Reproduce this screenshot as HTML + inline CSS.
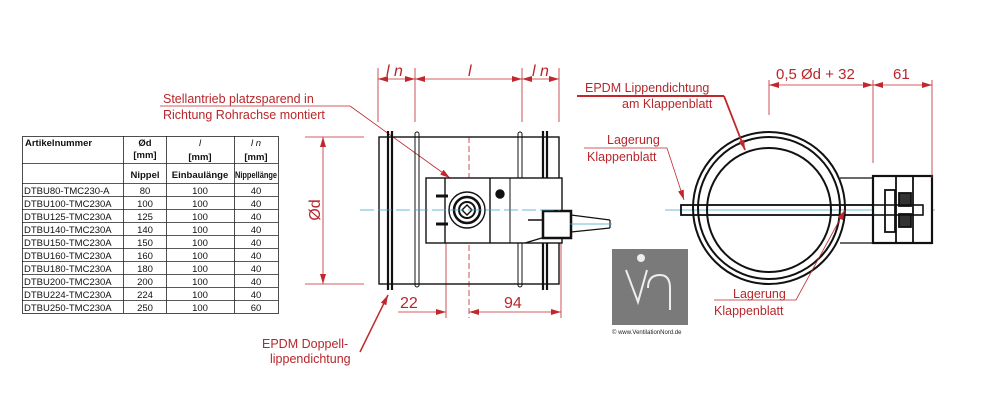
<!DOCTYPE html>
<html><head><meta charset="utf-8"><style>
html,body{margin:0;padding:0;background:#fff;}
svg{display:block;}
.r{fill:#b8262b;font-family:"Liberation Sans",sans-serif;}
.t{font-family:"Liberation Sans",sans-serif;font-size:9.5px;fill:#111;}
.b{font-weight:bold;}
</style></head><body>
<svg width="1000" height="400" viewBox="0 0 1000 400" xmlns="http://www.w3.org/2000/svg">
<defs>
<marker id="a" markerWidth="10" markerHeight="6" refX="10" refY="3" orient="auto-start-reverse" markerUnits="userSpaceOnUse"><path d="M0,0 L10,3 L0,6 z" fill="#c0282d"/></marker>
</defs>
<!-- TABLE -->
<g stroke="#222" stroke-width="0.8" fill="none">
<rect x="22.5" y="136.5" width="256" height="177"/>
<line x1="123.5" y1="136" x2="123.5" y2="313"/>
<line x1="166.5" y1="136" x2="166.5" y2="313"/>
<line x1="234.5" y1="136" x2="234.5" y2="313"/>
<line x1="22" y1="163.5" x2="278" y2="163.5"/>
<line x1="22" y1="183.5" x2="278" y2="183.5"/>
<line x1="22" y1="196.5" x2="278" y2="196.5"/>
<line x1="22" y1="209.5" x2="278" y2="209.5"/>
<line x1="22" y1="222.5" x2="278" y2="222.5"/>
<line x1="22" y1="235.5" x2="278" y2="235.5"/>
<line x1="22" y1="248.5" x2="278" y2="248.5"/>
<line x1="22" y1="261.5" x2="278" y2="261.5"/>
<line x1="22" y1="274.5" x2="278" y2="274.5"/>
<line x1="22" y1="287.5" x2="278" y2="287.5"/>
<line x1="22" y1="300.5" x2="278" y2="300.5"/>
</g>
<g class="t">
<text x="25" y="146" class="b">Artikelnummer</text>
<text x="145" y="146" class="b" text-anchor="middle">Ød</text>
<text x="145" y="158" class="b" text-anchor="middle">[mm]</text>
<text x="200" y="146" text-anchor="middle" font-style="italic">l</text>
<text x="200" y="160" class="b" text-anchor="middle">[mm]</text>
<text x="256" y="146" text-anchor="middle" font-style="italic">l n</text>
<text x="256" y="160" class="b" text-anchor="middle">[mm]</text>
<text x="145" y="178" class="b" text-anchor="middle">Nippel</text>
<text x="200" y="178" class="b" text-anchor="middle">Einbaulänge</text>
<text x="256" y="178" class="b" text-anchor="middle" textLength="42" lengthAdjust="spacingAndGlyphs">Nippellänge</text>
</g>
<g class="t">
<text x="24" y="194">DTBU80-TMC230-A</text><text x="145" y="194" text-anchor="middle">80</text><text x="200" y="194" text-anchor="middle">100</text><text x="256" y="194" text-anchor="middle">40</text>
<text x="24" y="207">DTBU100-TMC230A</text><text x="145" y="207" text-anchor="middle">100</text><text x="200" y="207" text-anchor="middle">100</text><text x="256" y="207" text-anchor="middle">40</text>
<text x="24" y="220">DTBU125-TMC230A</text><text x="145" y="220" text-anchor="middle">125</text><text x="200" y="220" text-anchor="middle">100</text><text x="256" y="220" text-anchor="middle">40</text>
<text x="24" y="233">DTBU140-TMC230A</text><text x="145" y="233" text-anchor="middle">140</text><text x="200" y="233" text-anchor="middle">100</text><text x="256" y="233" text-anchor="middle">40</text>
<text x="24" y="246">DTBU150-TMC230A</text><text x="145" y="246" text-anchor="middle">150</text><text x="200" y="246" text-anchor="middle">100</text><text x="256" y="246" text-anchor="middle">40</text>
<text x="24" y="259">DTBU160-TMC230A</text><text x="145" y="259" text-anchor="middle">160</text><text x="200" y="259" text-anchor="middle">100</text><text x="256" y="259" text-anchor="middle">40</text>
<text x="24" y="272">DTBU180-TMC230A</text><text x="145" y="272" text-anchor="middle">180</text><text x="200" y="272" text-anchor="middle">100</text><text x="256" y="272" text-anchor="middle">40</text>
<text x="24" y="285">DTBU200-TMC230A</text><text x="145" y="285" text-anchor="middle">200</text><text x="200" y="285" text-anchor="middle">100</text><text x="256" y="285" text-anchor="middle">40</text>
<text x="24" y="298">DTBU224-TMC230A</text><text x="145" y="298" text-anchor="middle">224</text><text x="200" y="298" text-anchor="middle">100</text><text x="256" y="298" text-anchor="middle">40</text>
<text x="24" y="311">DTBU250-TMC230A</text><text x="145" y="311" text-anchor="middle">250</text><text x="200" y="311" text-anchor="middle">100</text><text x="256" y="311" text-anchor="middle">60</text>
</g>

<!-- SIDE VIEW -->
<g stroke="#c0282d" stroke-width="0.8" fill="none">
<line x1="378" y1="68" x2="378" y2="122"/>
<line x1="415" y1="68" x2="415" y2="122"/>
<line x1="522" y1="68" x2="522" y2="122"/>
<line x1="559" y1="68" x2="559" y2="122"/>
<line x1="378" y1="79" x2="415" y2="79" marker-start="url(#a)" marker-end="url(#a)"/>
<line x1="415" y1="79" x2="522" y2="79" marker-start="url(#a)" marker-end="url(#a)"/>
<line x1="522" y1="79" x2="559" y2="79" marker-start="url(#a)" marker-end="url(#a)"/>
<line x1="305" y1="137" x2="364" y2="137"/>
<line x1="305" y1="284" x2="364" y2="284"/>
<line x1="323" y1="137" x2="323" y2="284" marker-start="url(#a)" marker-end="url(#a)"/>
<line x1="398" y1="312" x2="446" y2="312" marker-end="url(#a)"/>
<line x1="469" y1="312" x2="561" y2="312" marker-start="url(#a)" marker-end="url(#a)"/>
<line x1="446" y1="240" x2="446" y2="318"/>
<line x1="469" y1="137" x2="469" y2="318" stroke-dasharray="6,3"/>
<line x1="561" y1="240" x2="561" y2="318"/>
<line x1="160" y1="106" x2="350" y2="106"/>
<line x1="350" y1="106" x2="450" y2="178" marker-end="url(#a)"/>
<line x1="360" y1="352" x2="388" y2="295" stroke-width="1.5" marker-end="url(#a)"/>
</g>
<g class="r" font-size="16">
<text x="386" y="76" font-style="italic">l n</text>
<text x="468" y="76" font-style="italic">l</text>
<text x="532" y="76" font-style="italic">l n</text>
<text x="400" y="308">22</text>
<text x="504" y="308">94</text>
<text x="0" y="0" transform="translate(320,210) rotate(-90)" text-anchor="middle">Ød</text>
</g>
<g class="r" font-size="12.5">
<text x="163" y="103">Stellantrieb platzsparend in</text>
<text x="163" y="119">Richtung Rohrachse montiert</text>
<text x="262" y="348">EPDM Doppell-</text>
<text x="270" y="363">lippendichtung</text>
</g>
<g stroke="#111" fill="none" stroke-width="1.4">
<rect x="379" y="137" width="180" height="147"/>
<path d="M388,131 V290 M392,131 V290 M543,131 V290 M547,131 V290" stroke-width="2.2"/>
<rect x="415" y="132" width="4" height="155" rx="2" stroke-width="1"/>
<rect x="518" y="132" width="4" height="155" rx="2" stroke-width="1"/>
<rect x="426" y="178" width="136" height="65" fill="#fff"/>
<line x1="445" y1="178" x2="445" y2="243"/>
<line x1="490" y1="178" x2="490" y2="243"/>
<line x1="510" y1="178" x2="510" y2="243" stroke-width="1"/>
<circle cx="467" cy="210" r="18"/>
<circle cx="467" cy="210" r="13" stroke-width="2.5"/>
<circle cx="467" cy="210" r="8" stroke-width="2"/>
<path d="M462,210 L467,205 L472,210 L467,215 Z"/>
<circle cx="500" cy="194" r="4" fill="#111"/>
<path d="M436,196 h12 M436,224 h12" stroke-width="3"/>
<path d="M528,220 L545,220 L545,237 L525,243" fill="#fff"/>
<rect x="543" y="211" width="28" height="27" fill="#fff" stroke-width="2.5"/>
<path d="M571,215 L610,220 M571,232 L610,228 M610,220 V228" stroke-width="1.2"/>
</g>
<line x1="360" y1="210" x2="560" y2="210" stroke="#3aa4c8" stroke-width="0.8" stroke-dasharray="14,4"/>
<line x1="570" y1="224" x2="612" y2="224" stroke="#3aa4c8" stroke-width="0.8"/>

<!-- LOGO -->
<rect x="612" y="249" width="76" height="76" fill="#7a7a7a"/>
<circle cx="641" cy="258" r="4" fill="#eee"/>
<path d="M626,270 L638,302 L647,270" stroke="#eee" stroke-width="2" fill="none"/>
<path d="M648,288 Q648,275 660,275 Q670,275 670,288 V310" stroke="#eee" stroke-width="2" fill="none"/>
<text x="612" y="334" font-family="Liberation Sans,sans-serif" font-size="6" fill="#222">©  www.VentilationNord.de</text>

<!-- FRONT VIEW -->
<line x1="665" y1="210" x2="935" y2="210" stroke="#3aa4c8" stroke-width="0.8"/>
<g stroke="#111" fill="none" stroke-width="1.8">
<path d="M840,178 H873 M840,243 H873" stroke-width="1.2"/>
<circle cx="769" cy="208" r="76" stroke-width="2"/>
<circle cx="769" cy="208" r="71" stroke-width="2"/>
<circle cx="769" cy="210" r="62" stroke-width="2"/>
<rect x="681" y="205" width="242" height="10" fill="none" stroke-width="1.6"/>
<rect x="873" y="176" width="59" height="67" fill="#fff" stroke-width="2.2"/>
<line x1="896" y1="176" x2="896" y2="243"/>
<line x1="913" y1="176" x2="913" y2="243"/>
<rect x="885" y="190" width="10" height="42"/>
<rect x="899" y="193" width="12" height="13" fill="#333"/>
<rect x="899" y="214" width="12" height="13" fill="#333"/>
<rect x="681" y="205" width="242" height="10" fill="none" stroke-width="1.6"/>
</g>
<g stroke="#c0282d" stroke-width="0.8" fill="none">
<line x1="769" y1="80" x2="769" y2="115"/>
<line x1="873" y1="80" x2="873" y2="163"/>
<line x1="932" y1="80" x2="932" y2="178"/>
<line x1="769" y1="85" x2="873" y2="85" marker-start="url(#a)" marker-end="url(#a)"/>
<line x1="873" y1="85" x2="932" y2="85" marker-start="url(#a)" marker-end="url(#a)"/>
<path d="M577,96 H724" stroke-width="2"/>
<line x1="724" y1="96" x2="745" y2="150" stroke-width="1.8" marker-end="url(#a)"/>
<path d="M584,148 H667 L684,200" marker-end="url(#a)"/>
<path d="M714,300 H796 L845,210" marker-end="url(#a)"/>
</g>
<g class="r">
<text x="776" y="79" font-size="15">0,5 Ød + 32</text>
<text x="893" y="79" font-size="15">61</text>
<g font-size="12.5">
<text x="585" y="92">EPDM Lippendichtung</text>
<text x="622" y="108">am Klappenblatt</text>
<text x="607" y="144">Lagerung</text>
<text x="587" y="161">Klappenblatt</text>
<text x="733" y="298">Lagerung</text>
<text x="714" y="315">Klappenblatt</text>
</g>
</g>
</svg>
</body></html>
